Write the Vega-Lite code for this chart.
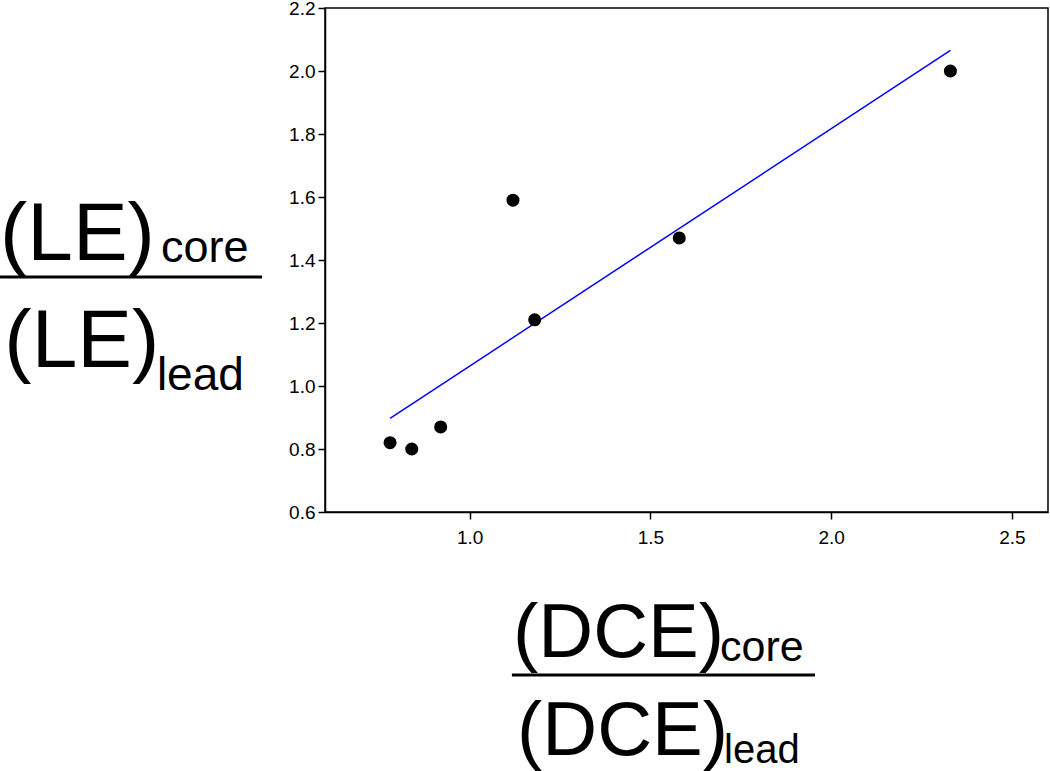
{
  "$schema": "https://vega.github.io/schema/vega-lite/v6.json",
  "width": 723,
  "height": 504,
  "autosize": {"type": "none"},
  "padding": {"left": 325, "top": 8, "right": 2, "bottom": 259},
  "background": "white",
  "config": {
    "font": "Liberation Sans",
    "view": {"stroke": "black", "strokeWidth": 1.5}
  },
  "layer": [
    {
      "data": {"values": [
        {"x": 0.78, "y": 0.82},
        {"x": 0.84, "y": 0.80},
        {"x": 0.92, "y": 0.87},
        {"x": 1.12, "y": 1.59},
        {"x": 1.18, "y": 1.21},
        {"x": 1.58, "y": 1.47},
        {"x": 2.33, "y": 2.00}
      ]},
      "layer": [
        {
          "transform": [{"regression": "y", "on": "x"}],
          "mark": {"type": "line", "color": "#0000ff", "strokeWidth": 1.5},
          "encoding": {
            "x": {"field": "x", "type": "quantitative"},
            "y": {"field": "y", "type": "quantitative"}
          }
        },
        {
          "mark": {"type": "point", "filled": true, "color": "black", "opacity": 1, "size": 170},
          "encoding": {
            "x": {"field": "x", "type": "quantitative",
              "scale": {"domain": [0.6, 2.6], "nice": false, "zero": false},
              "axis": {"title": null, "grid": false, "values": [1.0, 1.5, 2.0, 2.5], "format": ".1f", "labelPadding": 9,
                "labelFontSize": 19, "labelFont": "Liberation Sans", "labelColor": "black",
                "domainColor": "black", "domainWidth": 1.5, "tickColor": "black", "tickWidth": 1.5, "tickSize": 7}},
            "y": {"field": "y", "type": "quantitative",
              "scale": {"domain": [0.6, 2.2], "nice": false, "zero": false},
              "axis": {"title": null, "grid": false, "values": [0.6, 0.8, 1.0, 1.2, 1.4, 1.6, 1.8, 2.0, 2.2], "format": ".1f", "labelPadding": 3,
                "labelFontSize": 19, "labelFont": "Liberation Sans", "labelColor": "black", "labelFlush": false,
                "domainColor": "black", "domainWidth": 1.5, "tickColor": "black", "tickWidth": 1.5, "tickSize": 7}}
          }
        }
      ]
    },
    {
      "data": {"values": [{"t": "(LE)", "x": -0.299, "y": 1.4}]},
      "mark": {"type": "text", "align": "left", "baseline": "alphabetic", "fontSize": 82, "color": "black"},
      "encoding": {"x": {"field": "x", "type": "quantitative"}, "y": {"field": "y", "type": "quantitative"}, "text": {"field": "t"}}
    },
    {
      "data": {"values": [{"t": "core", "x": 0.146, "y": 1.395}]},
      "mark": {"type": "text", "align": "left", "baseline": "alphabetic", "fontSize": 45, "color": "black"},
      "encoding": {"x": {"field": "x", "type": "quantitative"}, "y": {"field": "y", "type": "quantitative"}, "text": {"field": "t"}}
    },
    {
      "data": {"values": [{"x": -0.299, "x2": 0.426, "y": 1.346}]},
      "mark": {"type": "rule", "color": "black", "strokeWidth": 3},
      "encoding": {"x": {"field": "x", "type": "quantitative"}, "x2": {"field": "x2"}, "y": {"field": "y", "type": "quantitative"}}
    },
    {
      "data": {"values": [{"t": "(LE)", "x": -0.287, "y": 1.06}]},
      "mark": {"type": "text", "align": "left", "baseline": "alphabetic", "fontSize": 82, "color": "black"},
      "encoding": {"x": {"field": "x", "type": "quantitative"}, "y": {"field": "y", "type": "quantitative"}, "text": {"field": "t"}}
    },
    {
      "data": {"values": [{"t": "lead", "x": 0.135, "y": 0.987}]},
      "mark": {"type": "text", "align": "left", "baseline": "alphabetic", "fontSize": 46, "color": "black"},
      "encoding": {"x": {"field": "x", "type": "quantitative"}, "y": {"field": "y", "type": "quantitative"}, "text": {"field": "t"}}
    },
    {
      "data": {"values": [{"t": "(DCE)", "x": 1.12, "y": 0.14}]},
      "mark": {"type": "text", "align": "left", "baseline": "alphabetic", "fontSize": 76, "color": "black"},
      "encoding": {"x": {"field": "x", "type": "quantitative"}, "y": {"field": "y", "type": "quantitative"}, "text": {"field": "t"}}
    },
    {
      "data": {"values": [{"t": "core", "x": 1.693, "y": 0.127}]},
      "mark": {"type": "text", "align": "left", "baseline": "alphabetic", "fontSize": 43, "color": "black"},
      "encoding": {"x": {"field": "x", "type": "quantitative"}, "y": {"field": "y", "type": "quantitative"}, "text": {"field": "t"}}
    },
    {
      "data": {"values": [{"x": 1.117, "x2": 1.9555, "y": 0.0825}]},
      "mark": {"type": "rule", "color": "black", "strokeWidth": 3},
      "encoding": {"x": {"field": "x", "type": "quantitative"}, "x2": {"field": "x2"}, "y": {"field": "y", "type": "quantitative"}}
    },
    {
      "data": {"values": [{"t": "(DCE)", "x": 1.131, "y": -0.171}]},
      "mark": {"type": "text", "align": "left", "baseline": "alphabetic", "fontSize": 76, "color": "black"},
      "encoding": {"x": {"field": "x", "type": "quantitative"}, "y": {"field": "y", "type": "quantitative"}, "text": {"field": "t"}}
    },
    {
      "data": {"values": [{"t": "lead", "x": 1.704, "y": -0.197}]},
      "mark": {"type": "text", "align": "left", "baseline": "alphabetic", "fontSize": 40, "color": "black"},
      "encoding": {"x": {"field": "x", "type": "quantitative"}, "y": {"field": "y", "type": "quantitative"}, "text": {"field": "t"}}
    }
  ]
}
